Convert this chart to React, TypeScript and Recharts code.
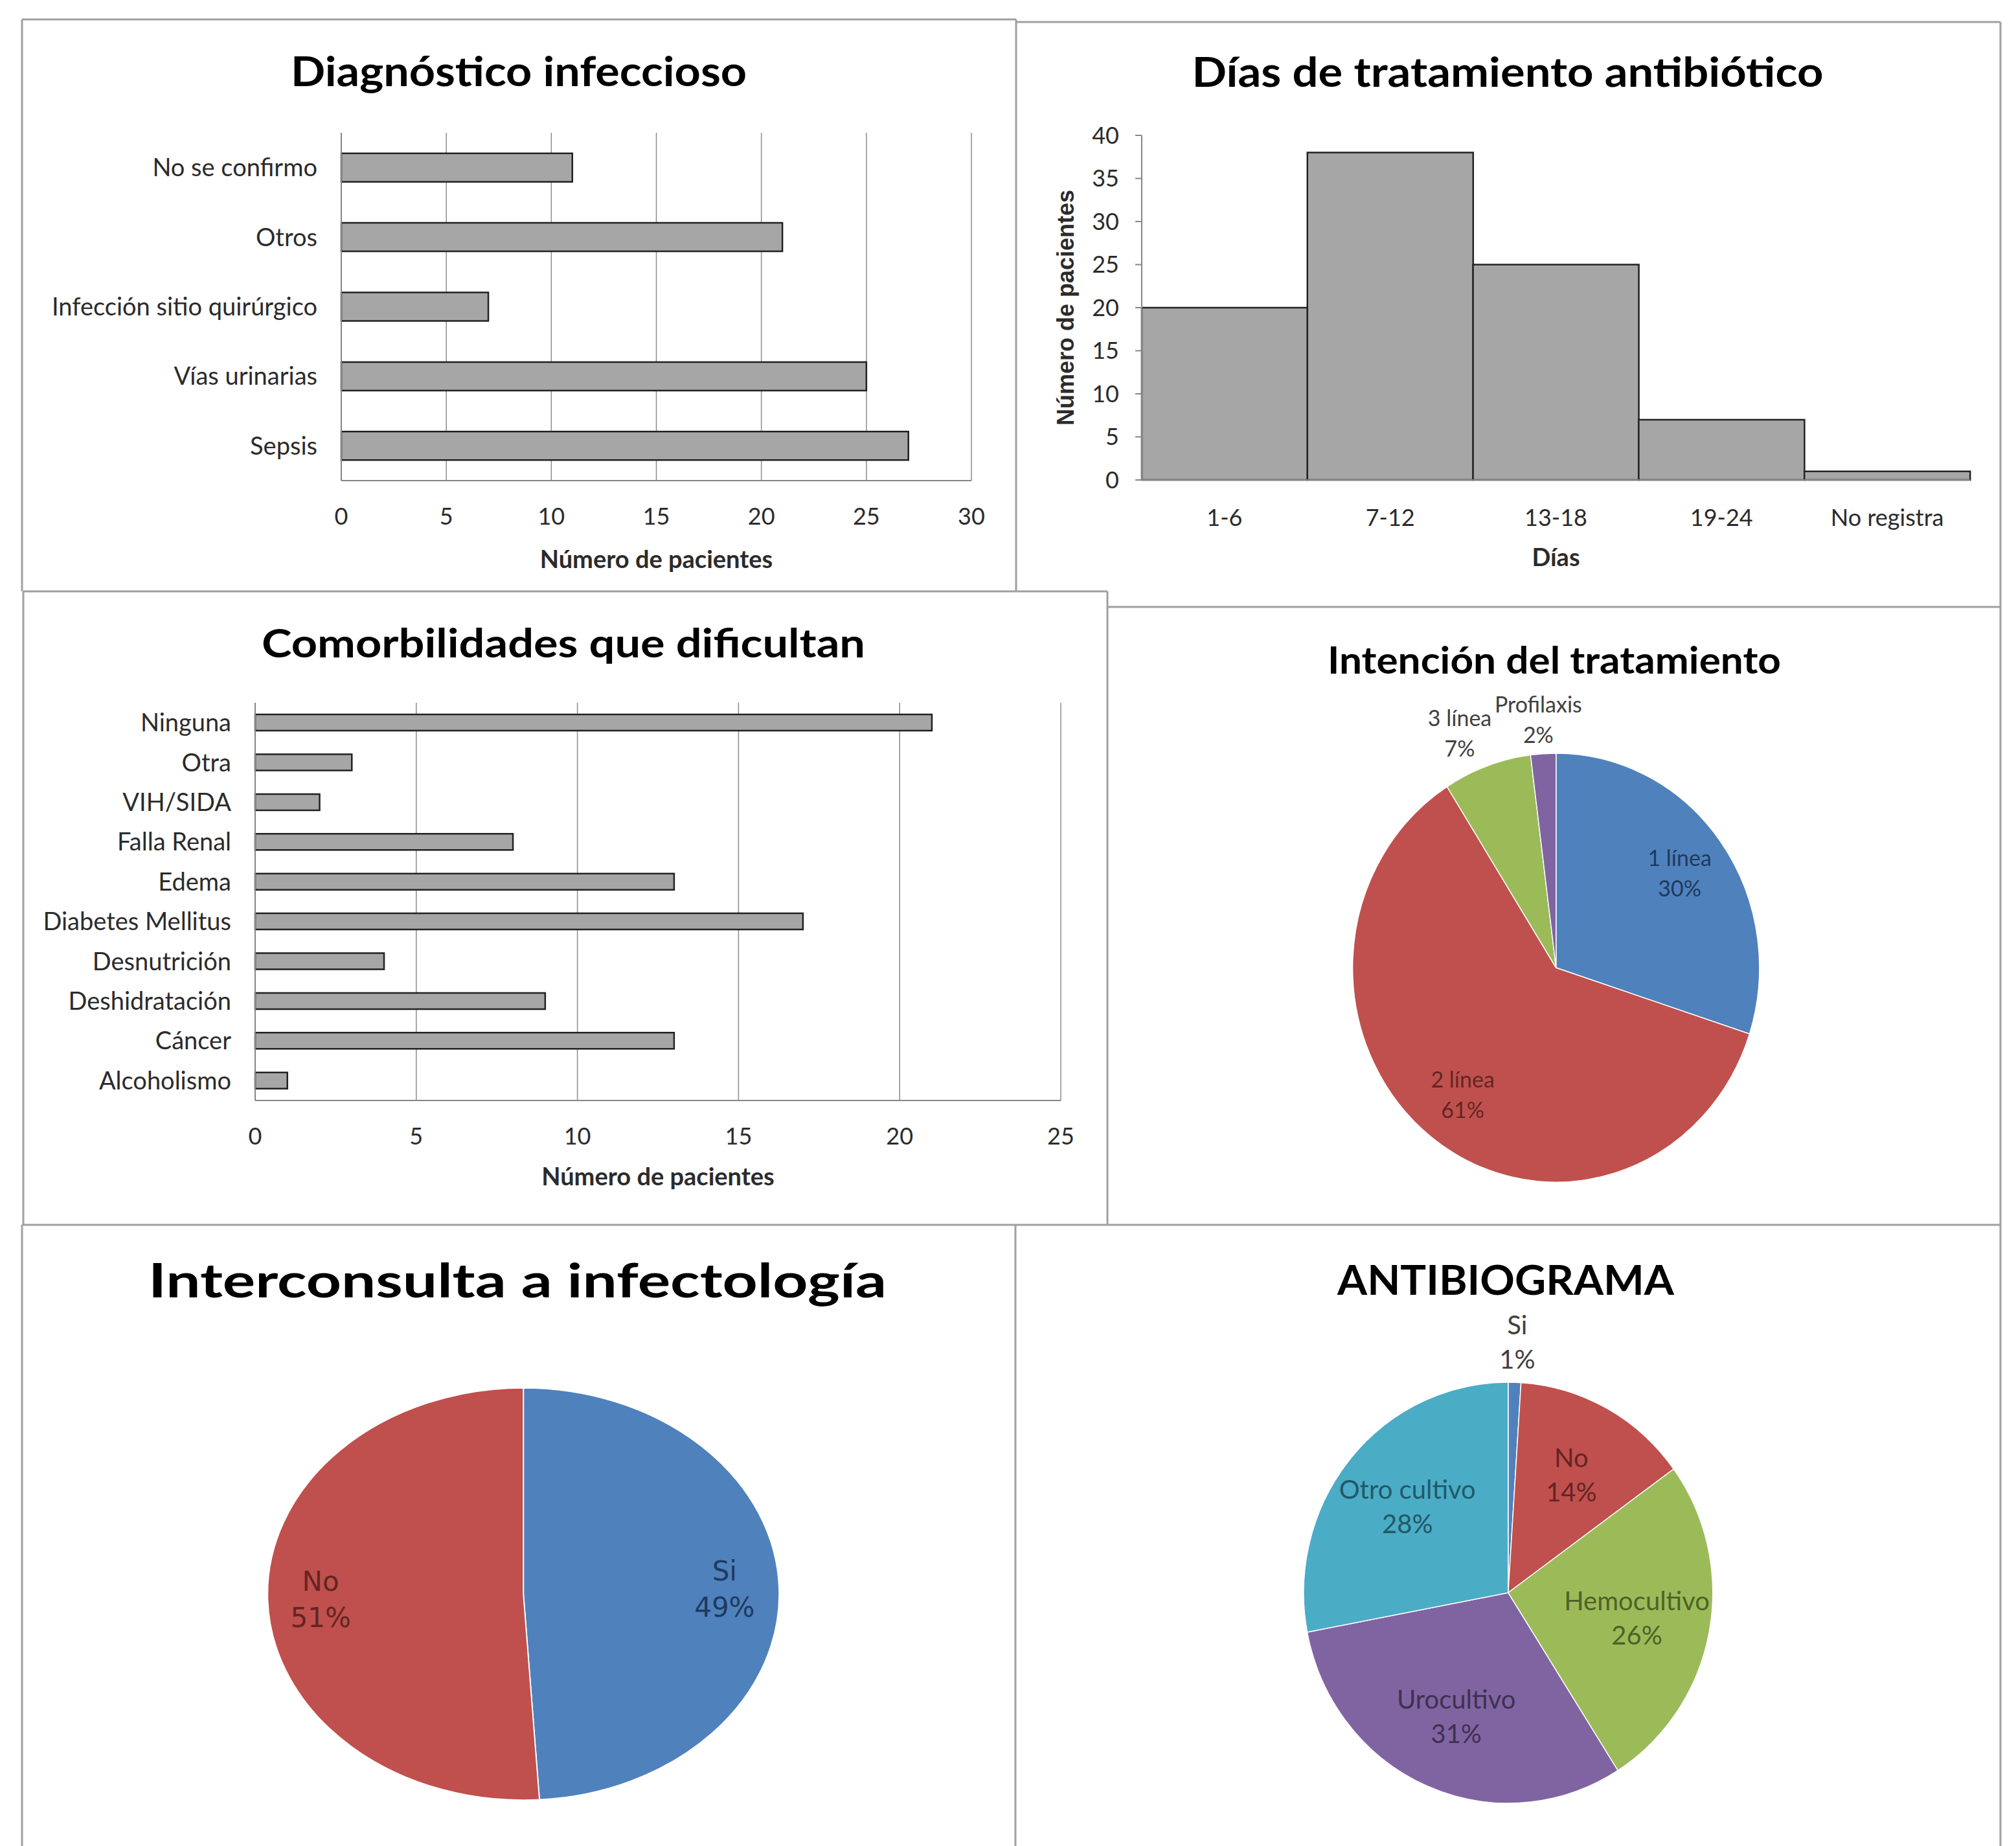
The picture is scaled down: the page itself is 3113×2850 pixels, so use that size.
import React from "react";
import { BarChart, Bar, XAxis, YAxis, CartesianGrid, Label, PieChart, Pie, Cell } from "recharts";

// Diagnóstico infeccioso (top to bottom)
const DIAG_CATEGORIES = ["No se confirmo", "Otros", "Infección sitio quirúrgico", "Vías urinarias", "Sepsis"];
const DIAG_VALUES = [11, 21, 7, 25, 27];
const DIAG_TICKS = [0, 5, 10, 15, 20, 25, 30];

// Días de tratamiento antibiótico
const DAYS_CATEGORIES = ["1-6", "7-12", "13-18", "19-24", "No registra"];
const DAYS_VALUES = [20, 38, 25, 7, 1];
const DAYS_TICKS = [0, 5, 10, 15, 20, 25, 30, 35, 40];

// Comorbilidades que dificultan (top to bottom)
const COMOR_CATEGORIES = ["Ninguna", "Otra", "VIH/SIDA", "Falla Renal", "Edema", "Diabetes Mellitus", "Desnutrición", "Deshidratación", "Cáncer", "Alcoholismo"];
const COMOR_VALUES = [21, 3, 2, 8, 13, 17, 4, 9, 13, 1];
const COMOR_TICKS = [0, 5, 10, 15, 20, 25];

// Intención del tratamiento (%)
const INTENT_LABELS = ["1 línea", "2 línea", "3 línea", "Profilaxis"];
const INTENT_VALUES = [30, 61, 7, 2];

// Interconsulta a infectología (%)
const INTER_LABELS = ["Si", "No"];
const INTER_VALUES = [49, 51];

// ANTIBIOGRAMA (%)
const ANTI_LABELS = ["Si", "No", "Hemocultivo", "Urocultivo", "Otro cultivo"];
const ANTI_VALUES = [1, 14, 26, 31, 28];

const BLUE = "#4F81BD";
const RED = "#C0504D";
const GREEN = "#9BBB59";
const PURPLE = "#8064A2";
const AQUA = "#4BACC6";
const DARK: Record<string, string> = {
  [BLUE]: "#1F3A5F",
  [RED]: "#632523",
  [GREEN]: "#4F6228",
  [PURPLE]: "#3F3151",
  [AQUA]: "#215968",
};

const INTENT_COLORS = [BLUE, RED, GREEN, PURPLE];
const INTER_COLORS = [BLUE, RED];
const ANTI_COLORS = [BLUE, RED, GREEN, PURPLE, AQUA];

const AXIS = "#868686";
const GRID = "#8c8c8c";
const BAR_FILL = "#A6A6A6";
const TEXT = "#2b2b2b";
const FONT = "Lato, 'Open Sans', sans-serif";

const toRows = (names: string[], values: number[]) => names.map((name, i) => ({ name, value: values[i] }));

const tickStyle = { fill: TEXT, fontSize: 36, fontFamily: FONT };
const catStyle = { fill: TEXT, fontSize: 38, fontFamily: FONT };

type LabelOpts = {
  sx: number;
  inside: number;
  outX: number;
  outY: number;
  font: string;
  size: number;
  gap: number;
  cap: number;
  colors: string[];
  names: string[];
};

// pie labels placed on an ellipse (the sectors are stretched by sx via css)
function ellipseLabel(o: LabelOpts) {
  return (p: any) => {
    const rad = (-p.midAngle * Math.PI) / 180;
    const out = p.percent < 0.1;
    const fx = out ? o.outX : o.inside;
    const fy = out ? o.outY : o.inside;
    const x = p.cx + o.sx * p.outerRadius * fx * Math.cos(rad);
    const y = p.cy + p.outerRadius * fy * Math.sin(rad);
    const idx = typeof p.index === "number" ? p.index : o.names.indexOf(p.name);
    const first = y - o.gap / 2 + (o.size * o.cap) / 2;
    return (
      <text x={x} y={first} textAnchor="middle" fontFamily={o.font} fontSize={o.size} fill={out ? "#404040" : DARK[o.colors[idx]]}>
        <tspan x={x}>{p.name}</tspan>
        <tspan x={x} dy={o.gap}>{`${p.value}%`}</tspan>
      </text>
    );
  };
}

// frame lines around the six pasted panels
const FRAME = [
  [34, 30, 1569, 30],
  [34, 30, 34, 913],
  [1569, 34, 3089, 34],
  [1569, 30, 1569, 913],
  [3089, 34, 3089, 2850],
  [36, 913, 1710, 913],
  [36, 913, 36, 1891],
  [1710, 913, 1710, 1891],
  [1710, 937, 3089, 937],
  [34, 1891, 3089, 1891],
  [34, 1891, 34, 2850],
  [1568, 1891, 1568, 2850],
];

const TITLES = [
  { text: "Diagnóstico infeccioso", x: 801, y: 133, size: 64, len: 704 },
  { text: "Días de tratamiento antibiótico", x: 2328, y: 134, size: 64, len: 975 },
  { text: "Comorbilidades que dificultan", x: 870, y: 1015, size: 62, len: 932 },
  { text: "Intención del tratamiento", x: 2400, y: 1040, size: 58, len: 700 },
  { text: "Interconsulta a infectología", x: 799, y: 2003, size: 72, len: 1140 },
  { text: "ANTIBIOGRAMA", x: 2325, y: 1999, size: 64, len: 520 },
];

const abs = (x: number, y: number): React.CSSProperties => ({ position: "absolute", left: x, top: y });

export default function App() {
  return (
    <div style={{ position: "absolute", left: 0, top: 0, width: 3113, height: 2850, background: "#fff", overflow: "hidden" }}>
      <style>{`
        #pie-intent .recharts-sector { transform-origin: 688px 552px; transform: scale(0.949, 1); }
        #pie-inter .recharts-sector { transform-origin: 768px 566px; transform: scale(1.242, 1); }
        #pie-anti .recharts-sector { transform-origin: 756px 564px; transform: scale(0.972, 1); }
      `}</style>

      <svg width={3113} height={2850} style={abs(0, 0)}>
        {FRAME.map(([x1, y1, x2, y2], i) => (
          <line key={i} x1={x1} y1={y1} x2={x2} y2={y2} stroke="#a0a0a0" strokeWidth={3} />
        ))}
        {TITLES.map((t) => (
          <text
            key={t.text}
            x={t.x}
            y={t.y}
            textAnchor="middle"
            fontFamily={FONT}
            fontWeight={700}
            fontSize={t.size}
            fill="#000"
            textLength={t.len}
            lengthAdjust="spacingAndGlyphs"
          >
            {t.text}
          </text>
        ))}
      </svg>

      {/* Diagnóstico infeccioso */}
      <div style={abs(34, 30)}>
        <BarChart width={1535} height={882} data={toRows(DIAG_CATEGORIES, DIAG_VALUES)} layout="vertical"
          margin={{ top: 175, right: 69, bottom: 50, left: 193 }} barCategoryGap="29.5%">
          <CartesianGrid horizontal={false} stroke={GRID} strokeWidth={1.5} />
          <XAxis type="number" domain={[0, 30]} ticks={DIAG_TICKS} interval={0} height={120}
            tickLine={false} tickSize={0} tickMargin={42} axisLine={{ stroke: AXIS, strokeWidth: 2 }} tick={tickStyle}>
            <Label value="Número de pacientes" position="bottom" offset={-12} fill={TEXT} fontSize={38} fontWeight={700} fontFamily={FONT} />
          </XAxis>
          <YAxis type="category" dataKey="name" width={300} interval={0}
            tickLine={false} tickSize={0} tickMargin={37} axisLine={{ stroke: AXIS, strokeWidth: 2 }} tick={catStyle} />
          <Bar dataKey="value" fill={BAR_FILL} stroke="#222" strokeWidth={2.5} isAnimationActive={false} />
        </BarChart>
      </div>

      {/* Días de tratamiento antibiótico */}
      <div style={abs(1569, 34)}>
        <BarChart width={1520} height={903} data={toRows(DAYS_CATEGORIES, DAYS_VALUES)}
          margin={{ top: 175, right: 47, bottom: 76, left: 74 }} barCategoryGap={0}>
          <XAxis dataKey="name" interval={0} height={120}
            tickLine={false} tickSize={0} tickMargin={45} axisLine={{ stroke: AXIS, strokeWidth: 2 }} tick={tickStyle}>
            <Label value="Días" position="bottom" offset={-14} fill={TEXT} fontSize={38} fontWeight={700} fontFamily={FONT} />
          </XAxis>
          <YAxis domain={[0, 40]} ticks={DAYS_TICKS} interval={0} width={120}
            tickSize={10} tickMargin={25} tickLine={{ stroke: AXIS, strokeWidth: 2 }} axisLine={{ stroke: AXIS, strokeWidth: 2 }} tick={tickStyle}>
            <Label value="Número de pacientes" position="insideLeft" angle={-90} offset={2}
              fill={TEXT} fontSize={36} fontWeight={700} fontFamily="'Liberation Sans', Arial, sans-serif" style={{ textAnchor: "middle" }} />
          </YAxis>
          <Bar dataKey="value" fill={BAR_FILL} stroke="#222" strokeWidth={2.5} isAnimationActive={false} />
        </BarChart>
      </div>

      {/* Comorbilidades que dificultan */}
      <div style={abs(36, 913)}>
        <BarChart width={1672} height={978} data={toRows(COMOR_CATEGORIES, COMOR_VALUES)} layout="vertical"
          margin={{ top: 172, right: 70, bottom: 72, left: 78 }} barCategoryGap="29.5%">
          <CartesianGrid horizontal={false} stroke={GRID} strokeWidth={1.5} />
          <XAxis type="number" domain={[0, 25]} ticks={COMOR_TICKS} interval={0} height={120}
            tickLine={false} tickSize={0} tickMargin={42} axisLine={{ stroke: AXIS, strokeWidth: 2 }} tick={tickStyle}>
            <Label value="Número de pacientes" position="bottom" offset={-16} fill={TEXT} fontSize={38} fontWeight={700} fontFamily={FONT} />
          </XAxis>
          <YAxis type="category" dataKey="name" width={280} interval={0}
            tickLine={false} tickSize={0} tickMargin={37} axisLine={{ stroke: AXIS, strokeWidth: 2 }} tick={catStyle} />
          <Bar dataKey="value" fill={BAR_FILL} stroke="#222" strokeWidth={2.5} isAnimationActive={false} />
        </BarChart>
      </div>

      {/* Intención del tratamiento */}
      <div id="pie-intent" style={abs(1710, 937)}>
        <PieChart width={1379} height={953}>
          <Pie data={toRows(INTENT_LABELS, INTENT_VALUES)} dataKey="value" nameKey="name" cx={688} cy={552}
            outerRadius={331} startAngle={90} endAngle={-270} stroke="#ffffff" strokeWidth={1.5}
            labelLine={false} isAnimationActive={false}
            label={ellipseLabel({ sx: 0.949, inside: 0.75, outX: 1.4, outY: 1.16, font: FONT, size: 34, gap: 47, cap: 0.72, colors: INTENT_COLORS, names: INTENT_LABELS })}>
            {INTENT_COLORS.map((c, i) => <Cell key={i} fill={c} />)}
          </Pie>
        </PieChart>
      </div>

      {/* Interconsulta a infectología */}
      <div id="pie-inter" style={abs(34, 1890)}>
        <PieChart width={1534} height={960}>
          <Pie data={toRows(INTER_LABELS, INTER_VALUES)} dataKey="value" nameKey="name" cx={768} cy={566}
            outerRadius={318} startAngle={90} endAngle={-270} stroke="#ffffff" strokeWidth={1.5}
            labelLine={false} isAnimationActive={false}
            label={ellipseLabel({ sx: 1.242, inside: 0.79, outX: 1.3, outY: 1.16, font: "'DejaVu Sans', Verdana, sans-serif", size: 42, gap: 56, cap: 0.73, colors: INTER_COLORS, names: INTER_LABELS })}>
            {INTER_COLORS.map((c, i) => <Cell key={i} fill={c} />)}
          </Pie>
        </PieChart>
      </div>

      {/* ANTIBIOGRAMA */}
      <div id="pie-anti" style={abs(1568, 1890)}>
        <PieChart width={1521} height={960}>
          <Pie data={toRows(ANTI_LABELS, ANTI_VALUES)} dataKey="value" nameKey="name" cx={756} cy={564}
            outerRadius={325} startAngle={90} endAngle={-270} stroke="#ffffff" strokeWidth={1.5}
            labelLine={false} isAnimationActive={false}
            label={ellipseLabel({ sx: 0.972, inside: 0.64, outX: 1.4, outY: 1.19, font: FONT, size: 40, gap: 53, cap: 0.72, colors: ANTI_COLORS, names: ANTI_LABELS })}>
            {ANTI_COLORS.map((c, i) => <Cell key={i} fill={c} />)}
          </Pie>
        </PieChart>
      </div>
    </div>
  );
}
